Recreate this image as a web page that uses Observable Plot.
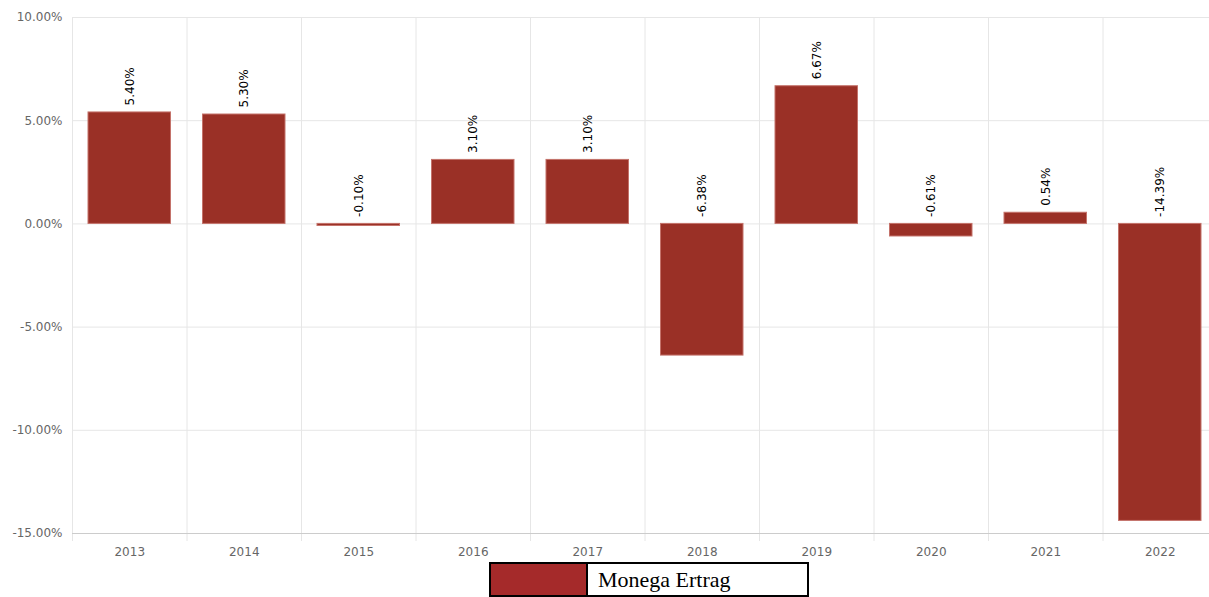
<!DOCTYPE html>
<html>
<head>
<meta charset="utf-8">
<script src="https://cdn.jsdelivr.net/npm/d3@7"></script>
<script src="https://cdn.jsdelivr.net/npm/@observablehq/plot@0.6"></script>
<style>
  html, body { margin: 0; padding: 0; background: #fff; overflow: hidden; }
  #chart { width: 1217px; }
  #chart svg { max-width: none !important; display: block; font-family: 'DejaVu Sans', sans-serif !important; }
  #legend {
    margin-left: 489px; margin-top: 2px;
    width: 316px; height: 31px;
    border: 2px solid #000; display: flex; align-items: stretch;
    font-family: "Liberation Serif", "Times New Roman", serif; font-size: 22px;
  }
  #legend .sw { width: 95px; background: #a52a2a; border-right: 2px solid #000; }
  #legend .lb { padding-left: 10px; line-height: 32px; color: #000; }
</style>
</head>
<body>
<div id="chart"></div>
<script>
const years = ["2013","2014","2015","2016","2017","2018","2019","2020","2021","2022"];
const returns = [5.40, 5.30, -0.10, 3.10, 3.10, -6.38, 6.67, -0.61, 0.54, -14.39];
const yTicks = [-15, -10, -5, 0, 5, 10];
const seriesName = "Monega Ertrag";

const data = years.map((y, i) => ({year: y, value: returns[i]}));

const width = 1217, height = 560;
const marginLeft = 72, marginRight = 0, marginTop = 17, marginBottom = 27;
const bw = (width - marginLeft - marginRight) / years.length;

const fmt = d => d.toFixed(2) + "%";

const plot = Plot.plot({
  width, height, marginLeft, marginRight, marginTop, marginBottom,
  style: {fontFamily: "'DejaVu Sans', sans-serif", fontSize: "12px", background: "#fff", maxWidth: "none"},
  x: {type: "band", domain: years, padding: 0, round: false, label: null},
  y: {domain: [-15, 10], label: null},
  marks: [
    Plot.ruleY(yTicks, {y: d => d, stroke: "#e6e6e6", strokeOpacity: 1}),
    Plot.ruleX(years, {x: d => d, dx: -bw / 2, stroke: "#e6e6e6", strokeOpacity: 1, insetBottom: -8}),
    Plot.ruleX([years[years.length - 1]], {x: d => d, dx: bw / 2, stroke: "#e6e6e6", strokeOpacity: 1, insetBottom: -8}),
    Plot.ruleY([-15], {stroke: "#cccccc"}),
    Plot.barY(data, {x: "year", y: "value", fill: "#9a3026", stroke: "#c4726a", strokeWidth: 1, insetLeft: 16, insetRight: 16}),
    Plot.text(data, {
      x: "year", y: d => Math.max(0, d.value), text: d => fmt(d.value),
      rotate: -90, textAnchor: "start", dy: -7, fill: "#000", fontSize: 12
    }),
    Plot.axisY({ticks: yTicks, tickFormat: fmt, tickSize: 0, tickPadding: 10, color: "#666", fontSize: 12}),
    Plot.axisX({tickSize: 0, tickPadding: 14, color: "#666", fontSize: 12})
  ]
});

const chart = document.getElementById("chart");
chart.appendChild(plot);
const legend = document.createElement("div");
legend.id = "legend";
const sw = document.createElement("div"); sw.className = "sw";
const lb = document.createElement("div"); lb.className = "lb"; lb.textContent = seriesName;
legend.appendChild(sw); legend.appendChild(lb);
chart.appendChild(legend);
</script>
</body>
</html>
